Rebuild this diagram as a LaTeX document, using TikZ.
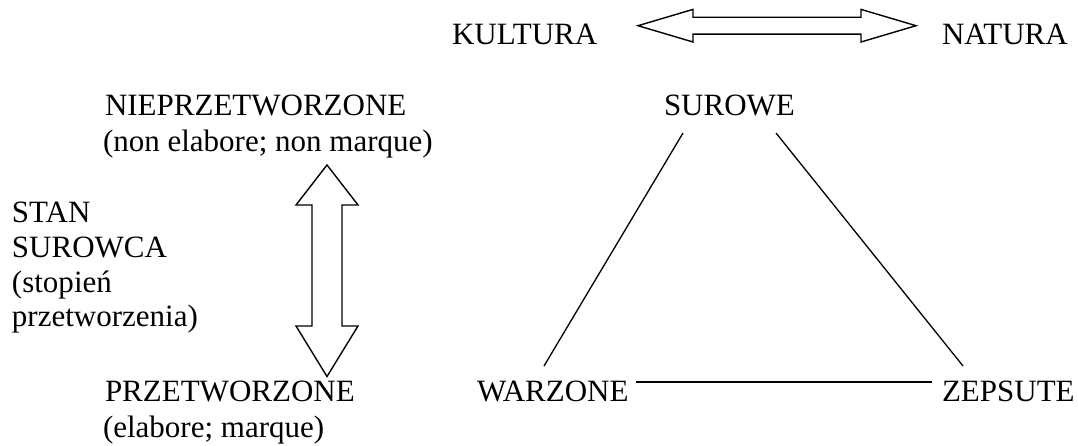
\documentclass[tikz,border=0pt]{standalone}
\usepackage{fontspec}
\setmainfont{Liberation Serif}
\begin{document}
\begin{tikzpicture}[x=1pt,y=-1pt,
  lbl/.style={anchor=base west,inner sep=0pt,outer sep=0pt,font=\fontsize{31}{36}\selectfont},
  fatarrow/.style={draw=black,line width=1.4pt,line join=miter,fill=white},
  edge/.style={draw=black,line width=1.3pt},
  thickedge/.style={draw=black,line width=2.4pt}]
\useasboundingbox[fill=white] (0,0) rectangle (1078,446);
% top row
\node[lbl] (kult) at (452,45) {KULTURA};
\node[lbl] (nat) at (942,45) {NATURA};
% left column
\node[lbl] (np1) at (105,116) {NIEPRZETWORZONE};
\node[lbl] (np2) at (103,152) {(non elabore; non marque)};
\node[lbl] (st1) at (12,223) {STAN};
\node[lbl] (st2) at (12,258) {SUROWCA};
\node[lbl] (st3) at (12,292) {(stopień};
\node[lbl] (st4) at (12,326) {przetworzenia)};
\node[lbl] (pr1) at (105,401) {PRZETWORZONE};
\node[lbl] (pr2) at (103,437) {(elabore; marque)};
% triangle
\node[lbl] (sur) at (664,116) {SUROWE};
\node[lbl] (war) at (477,401) {WARZONE};
\node[lbl] (zep) at (942,401) {ZEPSUTE};
% horizontal double arrow
\draw[fatarrow] (638,25.7) -- (693,9.4) -- (693,17.3) -- (861,17.3) -- (861,9.4)
  -- (916,25.7) -- (861,42) -- (861,34.1) -- (693,34.1) -- (693,42) -- cycle;
% vertical double arrow
\draw[fatarrow] (327,165) -- (358,205) -- (342,205) -- (342,326) -- (358,326)
  -- (327,376.5) -- (296,326) -- (312,326) -- (312,205) -- (296,205) -- cycle;
% triangle edges
\coordinate (sl) at (683,133);
\coordinate (sr) at (776,133);
\coordinate (wt) at (544,366);
\coordinate (zt) at (963,366);
\coordinate (wr) at (636,382);
\coordinate (zl) at (932,382);
\draw[edge] (sl) -- (wt);
\draw[edge] (sr) -- (zt);
\draw[thickedge] (wr) -- (zl);
\end{tikzpicture}
\end{document}
